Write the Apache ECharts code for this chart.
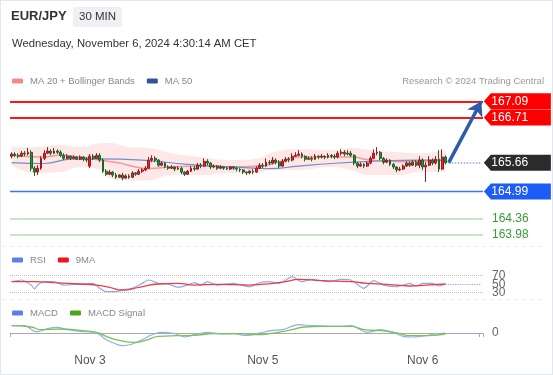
<!DOCTYPE html>
<html>
<head>
<meta charset="utf-8">
<script src="https://cdn.jsdelivr.net/npm/echarts@6/dist/echarts.min.js"></script>
<style>
html,body{margin:0;padding:0;background:#fff;}
#chart{position:absolute;left:0;top:0;width:553px;height:375px;}
#frame{position:absolute;left:0;top:0;width:551px;height:373px;border:1px solid #e4e8ec;pointer-events:none;}
</style>
</head>
<body>
<div id="chart"></div>
<div id="frame"></div>
<script>
// ---------- DATA ----------
const N = 145; // category slots (134 candles + projection space)
const tickIndex = [24, 77, 126];
const tickLabels = ['Nov 3', 'Nov 5', 'Nov 6'];

// [open, close, low, high]
const ohlc = [
[165.81,165.86,165.76,165.90],[165.86,165.83,165.79,165.90],[165.83,165.81,165.76,165.88],[165.81,165.88,165.79,165.93],
[165.88,165.86,165.81,165.93],[165.86,165.90,165.83,166.00],[165.90,165.53,165.46,165.95],[165.53,165.44,165.35,165.58],
[165.44,165.53,165.37,165.60],[165.53,165.76,165.49,165.81],[165.76,165.88,165.72,165.95],[165.88,165.93,165.86,166.02],
[165.93,165.88,165.83,165.97],[165.88,165.93,165.86,166.00],[165.93,165.90,165.86,165.97],[165.90,165.83,165.79,165.95],
[165.83,165.76,165.72,165.88],[165.76,165.81,165.74,165.86],[165.81,165.76,165.72,165.83],[165.76,165.79,165.74,165.83],
[165.79,165.74,165.72,165.81],[165.74,165.79,165.72,165.83],[165.79,165.74,165.69,165.81],[165.74,165.72,165.67,165.79],
[165.58,165.81,165.53,165.86],[165.81,165.76,165.72,165.86],[165.76,165.83,165.74,165.88],[165.83,165.72,165.67,165.88],
[165.72,165.46,165.42,165.76],[165.46,165.39,165.35,165.51],[165.39,165.44,165.37,165.49],[165.44,165.37,165.32,165.46],
[165.37,165.32,165.28,165.42],[165.32,165.37,165.30,165.39],[165.37,165.30,165.25,165.42],[165.30,165.35,165.28,165.39],
[165.35,165.32,165.28,165.39],[165.32,165.42,165.30,165.46],[165.42,165.39,165.35,165.44],[165.39,165.46,165.37,165.51],
[165.46,165.49,165.42,165.53],[165.49,165.53,165.46,165.58],[165.53,165.72,165.51,165.79],[165.72,165.76,165.67,165.83],
[165.76,165.72,165.67,165.81],[165.72,165.60,165.56,165.74],[165.60,165.65,165.58,165.69],[165.65,165.56,165.53,165.67],
[165.56,165.53,165.49,165.60],[165.53,165.56,165.51,165.60],[165.56,165.51,165.46,165.58],[165.51,165.53,165.49,165.58],
[165.53,165.44,165.39,165.56],[165.44,165.39,165.35,165.46],[165.39,165.46,165.37,165.49],[165.46,165.53,165.44,165.58],
[165.53,165.51,165.46,165.58],[165.51,165.60,165.49,165.65],[165.60,165.58,165.53,165.65],[165.58,165.69,165.56,165.76],
[165.69,165.65,165.60,165.74],[165.65,165.56,165.51,165.67],[165.56,165.58,165.53,165.62],[165.58,165.53,165.49,165.60],
[165.53,165.56,165.51,165.60],[165.56,165.53,165.49,165.58],[165.53,165.51,165.49,165.56],[165.51,165.56,165.49,165.58],
[165.56,165.53,165.49,165.58],[165.53,165.51,165.46,165.56],[165.51,165.49,165.44,165.53],[165.49,165.44,165.39,165.51],
[165.44,165.42,165.37,165.46],[165.42,165.46,165.39,165.49],[165.46,165.44,165.39,165.51],[165.44,165.53,165.42,165.58],
[165.53,165.60,165.51,165.65],[165.60,165.58,165.53,165.65],[165.58,165.67,165.56,165.76],[165.67,165.65,165.60,165.72],
[165.65,165.72,165.62,165.79],[165.72,165.67,165.62,165.76],[165.67,165.58,165.53,165.72],[165.58,165.69,165.56,165.74],
[165.69,165.74,165.67,165.79],[165.74,165.72,165.67,165.79],[165.72,165.81,165.69,165.88],[165.81,165.83,165.79,165.90],
[165.83,165.86,165.81,165.95],[165.86,165.81,165.76,165.90],[165.81,165.74,165.69,165.83],[165.74,165.76,165.72,165.81],
[165.76,165.74,165.69,165.81],[165.74,165.81,165.72,165.86],[165.81,165.79,165.74,165.83],[165.79,165.81,165.76,165.86],
[165.81,165.79,165.74,165.83],[165.79,165.83,165.76,165.88],[165.83,165.81,165.76,165.86],[165.81,165.79,165.74,165.86],
[165.79,165.88,165.76,165.93],[165.88,165.90,165.83,165.97],[165.90,165.86,165.81,165.95],[165.86,165.88,165.83,165.95],
[165.88,165.83,165.79,165.93],[165.83,165.65,165.60,165.86],[165.65,165.58,165.53,165.67],[165.58,165.62,165.56,165.67],
[165.62,165.58,165.53,165.65],[165.58,165.65,165.56,165.69],[165.65,165.76,165.62,165.81],[165.76,165.88,165.74,165.97],
[165.88,165.90,165.83,166.02],[165.90,165.76,165.72,165.93],[165.76,165.67,165.62,165.79],[165.67,165.72,165.65,165.76],
[165.72,165.62,165.58,165.74],[165.62,165.56,165.51,165.65],[165.56,165.49,165.44,165.58],[165.49,165.51,165.46,165.56],
[165.51,165.58,165.49,165.62],[165.58,165.65,165.56,165.69],[165.65,165.60,165.56,165.69],[165.60,165.67,165.58,165.72],
[165.67,165.60,165.56,165.72],[165.60,165.72,165.53,165.81],[165.72,165.56,165.49,165.76],[165.56,165.60,165.21,165.67],
[165.60,165.72,165.58,165.81],[165.72,165.65,165.60,165.76],[165.65,165.74,165.62,165.81],[165.74,165.51,165.44,165.95],
[165.51,165.79,165.49,165.97],[165.79,165.66,165.62,165.83]
];

// [index, value]
const bbUpper = [[0,166.02],[7,166.02],[15,166.07],[21,166.02],[27,166.11],[30,166.12],[36,166.02],[42,166.00],[49,165.88],[58,165.79],[67,165.72],[76,165.76],[79,165.88],[88,165.97],[98,165.95],[104,166.00],[110,165.95],[119,165.90],[125,165.88],[133,165.95]];
const bbLower = [[0,165.60],[7,165.42],[15,165.44],[21,165.56],[27,165.49],[30,165.30],[36,165.24],[42,165.25],[49,165.37],[58,165.37],[67,165.42],[76,165.42],[79,165.49],[88,165.49],[98,165.56],[104,165.49],[110,165.37],[119,165.37],[125,165.44],[133,165.44]];
const ma20 = [[0,165.83],[9,165.79],[15,165.83],[21,165.79],[27,165.72],[33,165.65],[38,165.56],[42,165.52],[49,165.56],[58,165.58],[67,165.56],[76,165.58],[82,165.68],[88,165.79],[98,165.79],[104,165.79],[110,165.72],[119,165.68],[128,165.70],[133,165.72]];
const ma50 = [[0,165.66],[10,165.64],[18,165.74],[27,165.75],[40,165.72],[54,165.62],[68,165.56],[79,165.52],[88,165.58],[98,165.64],[110,165.69],[125,165.72],[133,165.72]];

const rsi = [[0,55.9],[3,59.9],[6,48],[7,38.7],[8,48],[10,55.9],[13,55.9],[16,48],[20,49.8],[25,52],[27,40.4],[29,32.4],[32,32.4],[34,36.4],[37,40.4],[40,52],[42,59.9],[45,52],[48,50.5],[51,42.7],[54,48],[56,53.5],[58,48],[60,55.9],[63,48],[68,52],[73,44],[76,53.5],[79,55.9],[82,52],[86,67.6],[89,55.9],[92,61.5],[97,55.9],[101,61.5],[104,59.9],[108,40.4],[111,58.2],[114,48],[118,44],[122,52],[124,45.8],[126,52],[129,52],[131,45.8],[133,50]];
const rsiMA = [[0,55.9],[7,55.9],[13,53.5],[21,50.5],[26,48],[30,42.7],[34,36.4],[39,42.7],[45,50.5],[51,52],[56,48],[63,49.8],[73,48],[80,52],[84,55.9],[88,61.5],[95,58.2],[104,55.9],[109,52],[115,49.8],[122,45.8],[127,48],[133,50.5]];
const macd = [[0,0.073],[4,0.073],[7,0.016],[8,0.013],[11,0.043],[14,0.056],[17,0.033],[21,0.016],[25,0.006],[27,-0.017],[29,-0.067],[32,-0.11],[34,-0.127],[37,-0.11],[40,-0.067],[43,-0.017],[46,0.006],[50,-0.007],[53,-0.04],[56,-0.017],[60,0.006],[64,-0.01],[68,-0.007],[72,-0.024],[76,0],[80,0.026],[83,0.033],[88,0.083],[92,0.073],[100,0.066],[104,0.073],[109,0.006],[113,0.033],[117,0.006],[120,-0.034],[123,-0.04],[127,-0.027],[130,-0.007],[133,0]];
const macdSignal = [[0,0.073],[6,0.06],[9,0.033],[15,0.04],[21,0.026],[26,0.006],[29,-0.034],[33,-0.074],[38,-0.094],[41,-0.074],[45,-0.034],[51,-0.027],[56,-0.024],[62,-0.007],[70,-0.007],[75,-0.017],[79,-0.007],[85,0.026],[90,0.06],[95,0.066],[104,0.066],[108,0.033],[113,0.023],[118,0],[122,-0.027],[127,-0.027],[133,-0.01]];

const lastClose = 165.66;
const target1 = 167.09, target2 = 166.71, pivot = 164.99, support1 = 164.36, support2 = 163.98;

// ---------- CHART ----------
const FONT = 'Liberation Sans, Arial, sans-serif';
const categories = Array.from({length: N}, (_, i) => {
  const k = tickIndex.indexOf(i);
  return k >= 0 ? tickLabels[k] : '';
});
const bandWidth = bbUpper.map((p, k) => [p[0], +(p[1] - bbLower[k][1]).toFixed(4)]);
const lastIdx = ohlc.length - 1;
const tagPath = 'path://M0,8L7,0H67V16H7Z';

function tag(value, color) {
  return { coord: [N - 1, value], value: value, itemStyle: { color: color } };
}

const chart = echarts.init(document.getElementById('chart'), null, {renderer: 'canvas'});
const option = {
  animation: false,
  textStyle: { fontFamily: FONT },
  title: [
    { text: 'EUR/JPY', left: 11, top: 10, padding: 0, textStyle: { fontSize: 13, fontWeight: 'bold', color: '#333', fontFamily: FONT } },
    { text: '30 MIN', left: 73, top: 7, padding: [4, 6], backgroundColor: '#eef0f3', borderRadius: 2, textStyle: { fontSize: 11.5, fontWeight: 'normal', color: '#333', lineHeight: 12, fontFamily: FONT } },
    { text: 'Wednesday, November 6, 2024 4:30:14 AM CET', left: 12, top: 38, padding: 0, textStyle: { fontSize: 11.3, fontWeight: 'normal', color: '#333', fontFamily: FONT } },
    { text: 'Research © 2024 Trading Central', right: 9, top: 76, padding: 0, textStyle: { fontSize: 9.5, fontWeight: 'normal', color: '#999', fontFamily: FONT } }
  ],
  legend: [
    { left: 12, top: 76, padding: 0, itemWidth: 11, itemHeight: 5, itemGap: 12, icon: 'roundRect', selectedMode: false,
      data: ['MA 20 + Bollinger Bands', 'MA 50'], textStyle: { color: '#888', fontSize: 9.5, padding: [0, 0, 0, 2] } },
    { left: 12, top: 255, padding: 0, itemWidth: 11, itemHeight: 5, itemGap: 12, icon: 'roundRect', selectedMode: false,
      data: ['RSI', '9MA'], textStyle: { color: '#888', fontSize: 9.5, padding: [0, 0, 0, 2] } },
    { left: 12, top: 308, padding: 0, itemWidth: 11, itemHeight: 5, itemGap: 12, icon: 'roundRect', selectedMode: false,
      data: ['MACD', 'MACD Signal'], textStyle: { color: '#888', fontSize: 9.5, padding: [0, 0, 0, 2] } }
  ],
  graphic: [
    { type: 'line', silent: true, shape: { x1: 2, y1: 246.5, x2: 545, y2: 246.5 }, style: { stroke: '#f0f0f0', lineWidth: 1, lineDash: [4, 4] } },
    { type: 'line', silent: true, shape: { x1: 2, y1: 299.5, x2: 545, y2: 299.5 }, style: { stroke: '#f0f0f0', lineWidth: 1, lineDash: [4, 4] } }
  ],
  grid: [
    { left: 10, right: 70, top: 88, height: 163 },
    { left: 10, right: 70, top: 267.2, height: 34 },
    { left: 10, right: 70, top: 318, height: 30 }
  ],
  xAxis: [0, 1, 2].map(g => ({
    type: 'category', gridIndex: g, data: categories, boundaryGap: true, show: g === 2,
    axisLine: { show: true, lineStyle: { color: '#aaa', width: 1 } },
    axisTick: { show: true, length: 4, interval: (i) => i === 0 || i === N - 1, lineStyle: { color: '#aaa' } },
    axisLabel: { interval: 0, color: '#555', fontSize: 12, margin: 7, fontFamily: FONT },
    splitLine: { show: false }
  })),
  yAxis: [
    { type: 'value', gridIndex: 0, min: 163.6, max: 167.4, show: false, splitLine: { show: false } },
    { type: 'value', gridIndex: 1, min: 10, max: 90, interval: 20, position: 'right',
      axisLine: { show: false }, axisTick: { show: false }, splitLine: { show: false },
      axisLabel: { margin: 9, color: '#666', fontSize: 12, fontFamily: FONT, formatter: v => (v === 30 || v === 50 || v === 70) ? String(v) : '' } },
    { type: 'value', gridIndex: 2, min: -0.15, max: 0.15, interval: 0.15, position: 'right',
      axisLine: { show: false }, axisTick: { show: false }, splitLine: { show: false },
      axisLabel: { margin: 9, color: '#666', fontSize: 12, fontFamily: FONT, formatter: v => Math.abs(v) < 1e-9 ? '0' : '' } }
  ],
  series: [
    { name: 'bbLower', type: 'line', xAxisIndex: 0, yAxisIndex: 0, stack: 'bb', data: bbLower, smooth: true,
      symbol: 'none', silent: true, lineStyle: { opacity: 0 }, z: 1 },
    { name: 'bbBand', type: 'line', xAxisIndex: 0, yAxisIndex: 0, stack: 'bb', data: bandWidth, smooth: true,
      symbol: 'none', silent: true, lineStyle: { opacity: 0 }, areaStyle: { color: 'rgba(250,110,110,0.24)' }, z: 1 },
    { name: 'MA 20 + Bollinger Bands', type: 'line', xAxisIndex: 0, yAxisIndex: 0, data: ma20, smooth: true,
      symbol: 'none', color: '#f58a8a', lineStyle: { color: '#f59a9a', width: 1.5 }, z: 2 },
    { name: 'MA 50', type: 'line', xAxisIndex: 0, yAxisIndex: 0, data: ma50, smooth: true,
      symbol: 'none', color: '#2f5597', lineStyle: { color: '#6f8fca', width: 1.2 }, z: 2 },
    { name: 'EURJPY', type: 'candlestick', xAxisIndex: 0, yAxisIndex: 0, data: ohlc, barWidth: '72%', z: 3, clip: false,
      itemStyle: { color: '#e5262b', color0: '#2f8a3a', borderColor: '#9a1a1d', borderColor0: '#22622a', borderWidth: 1 },
      markLine: {
        silent: true, symbol: 'none', animation: false, label: { show: false },
        data: [
          { yAxis: target1, lineStyle: { color: '#ff1414', width: 2, type: 'solid' } },
          { yAxis: target2, lineStyle: { color: '#ff1414', width: 2, type: 'solid' } },
          { yAxis: pivot, lineStyle: { color: '#3f74f0', width: 1.3, type: 'solid' } },
          { yAxis: support1, lineStyle: { color: '#b8dcb2', width: 1.5, type: 'solid' },
            label: { show: true, position: 'end', distance: 9, color: '#3a9a3a', fontSize: 12, fontFamily: FONT, formatter: p => p.value.toFixed(2) } },
          { yAxis: support2, lineStyle: { color: '#b8dcb2', width: 1.5, type: 'solid' },
            label: { show: true, position: 'end', distance: 9, color: '#3a9a3a', fontSize: 12, fontFamily: FONT, formatter: p => p.value.toFixed(2) } },
          [ { coord: [lastIdx + 1, lastClose], lineStyle: { color: '#8ea3d6', width: 1.5, type: 'dotted' } },
            { coord: [N - 1, lastClose] } ],
          [ { coord: [lastIdx + 1, lastClose], symbol: 'none', lineStyle: { color: '#2b5ca8', width: 3.5, type: 'solid' } },
            { coord: [N - 1, target1], symbol: 'arrow', symbolSize: [13, 14] } ]
        ]
      },
      markPoint: {
        silent: true, symbol: tagPath, symbolSize: [67, 16], symbolOffset: [36, 0], symbolKeepAspect: false,
        label: { show: true, position: 'inside', align: 'left', offset: [-26, 0], color: '#fff', fontSize: 12, fontFamily: FONT,
                 formatter: p => p.value.toFixed(2) },
        data: [ tag(target1, '#ff0000'), tag(target2, '#ff0000'), tag(lastClose, '#2b2b2b'), tag(pivot, '#1f5cf5') ]
      }
    },
    { name: 'RSI', type: 'line', xAxisIndex: 1, yAxisIndex: 1, data: rsi, smooth: 0.2, symbol: 'none',
      color: '#5d80e6', lineStyle: { color: '#8eaaf3', width: 1.2 }, z: 2,
      markLine: { silent: true, symbol: 'none', label: { show: false },
        data: [
          { yAxis: 70, lineStyle: { color: '#bbb', width: 1, type: 'dotted' } },
          { yAxis: 30, lineStyle: { color: '#bbb', width: 1, type: 'dotted' } },
          [ { coord: [lastIdx, 50], lineStyle: { color: '#8ea3e6', width: 1.2, type: 'dotted' } }, { coord: [N - 1, 50] } ]
        ] } },
    { name: '9MA', type: 'line', xAxisIndex: 1, yAxisIndex: 1, data: rsiMA, smooth: true, symbol: 'none',
      color: '#f0141e', lineStyle: { color: '#ee3b40', width: 1.3 }, z: 3 },
    { name: 'MACD', type: 'line', xAxisIndex: 2, yAxisIndex: 2, data: macd, smooth: 0.3, symbol: 'none',
      color: '#5d80e6', lineStyle: { color: '#93adf3', width: 1.2 }, z: 2,
      markLine: { silent: true, symbol: 'none', label: { show: false },
        data: [ [ { coord: [lastIdx, 0], lineStyle: { color: '#8ea3e6', width: 1.2, type: 'dotted' } }, { coord: [N - 1, 0] } ] ] } },
    { name: 'MACD Signal', type: 'line', xAxisIndex: 2, yAxisIndex: 2, data: macdSignal, smooth: true, symbol: 'none',
      color: '#4ca51e', lineStyle: { color: '#7cc350', width: 1.3 }, z: 2 }
  ]
};
chart.setOption(option);
</script>
</body>
</html>
